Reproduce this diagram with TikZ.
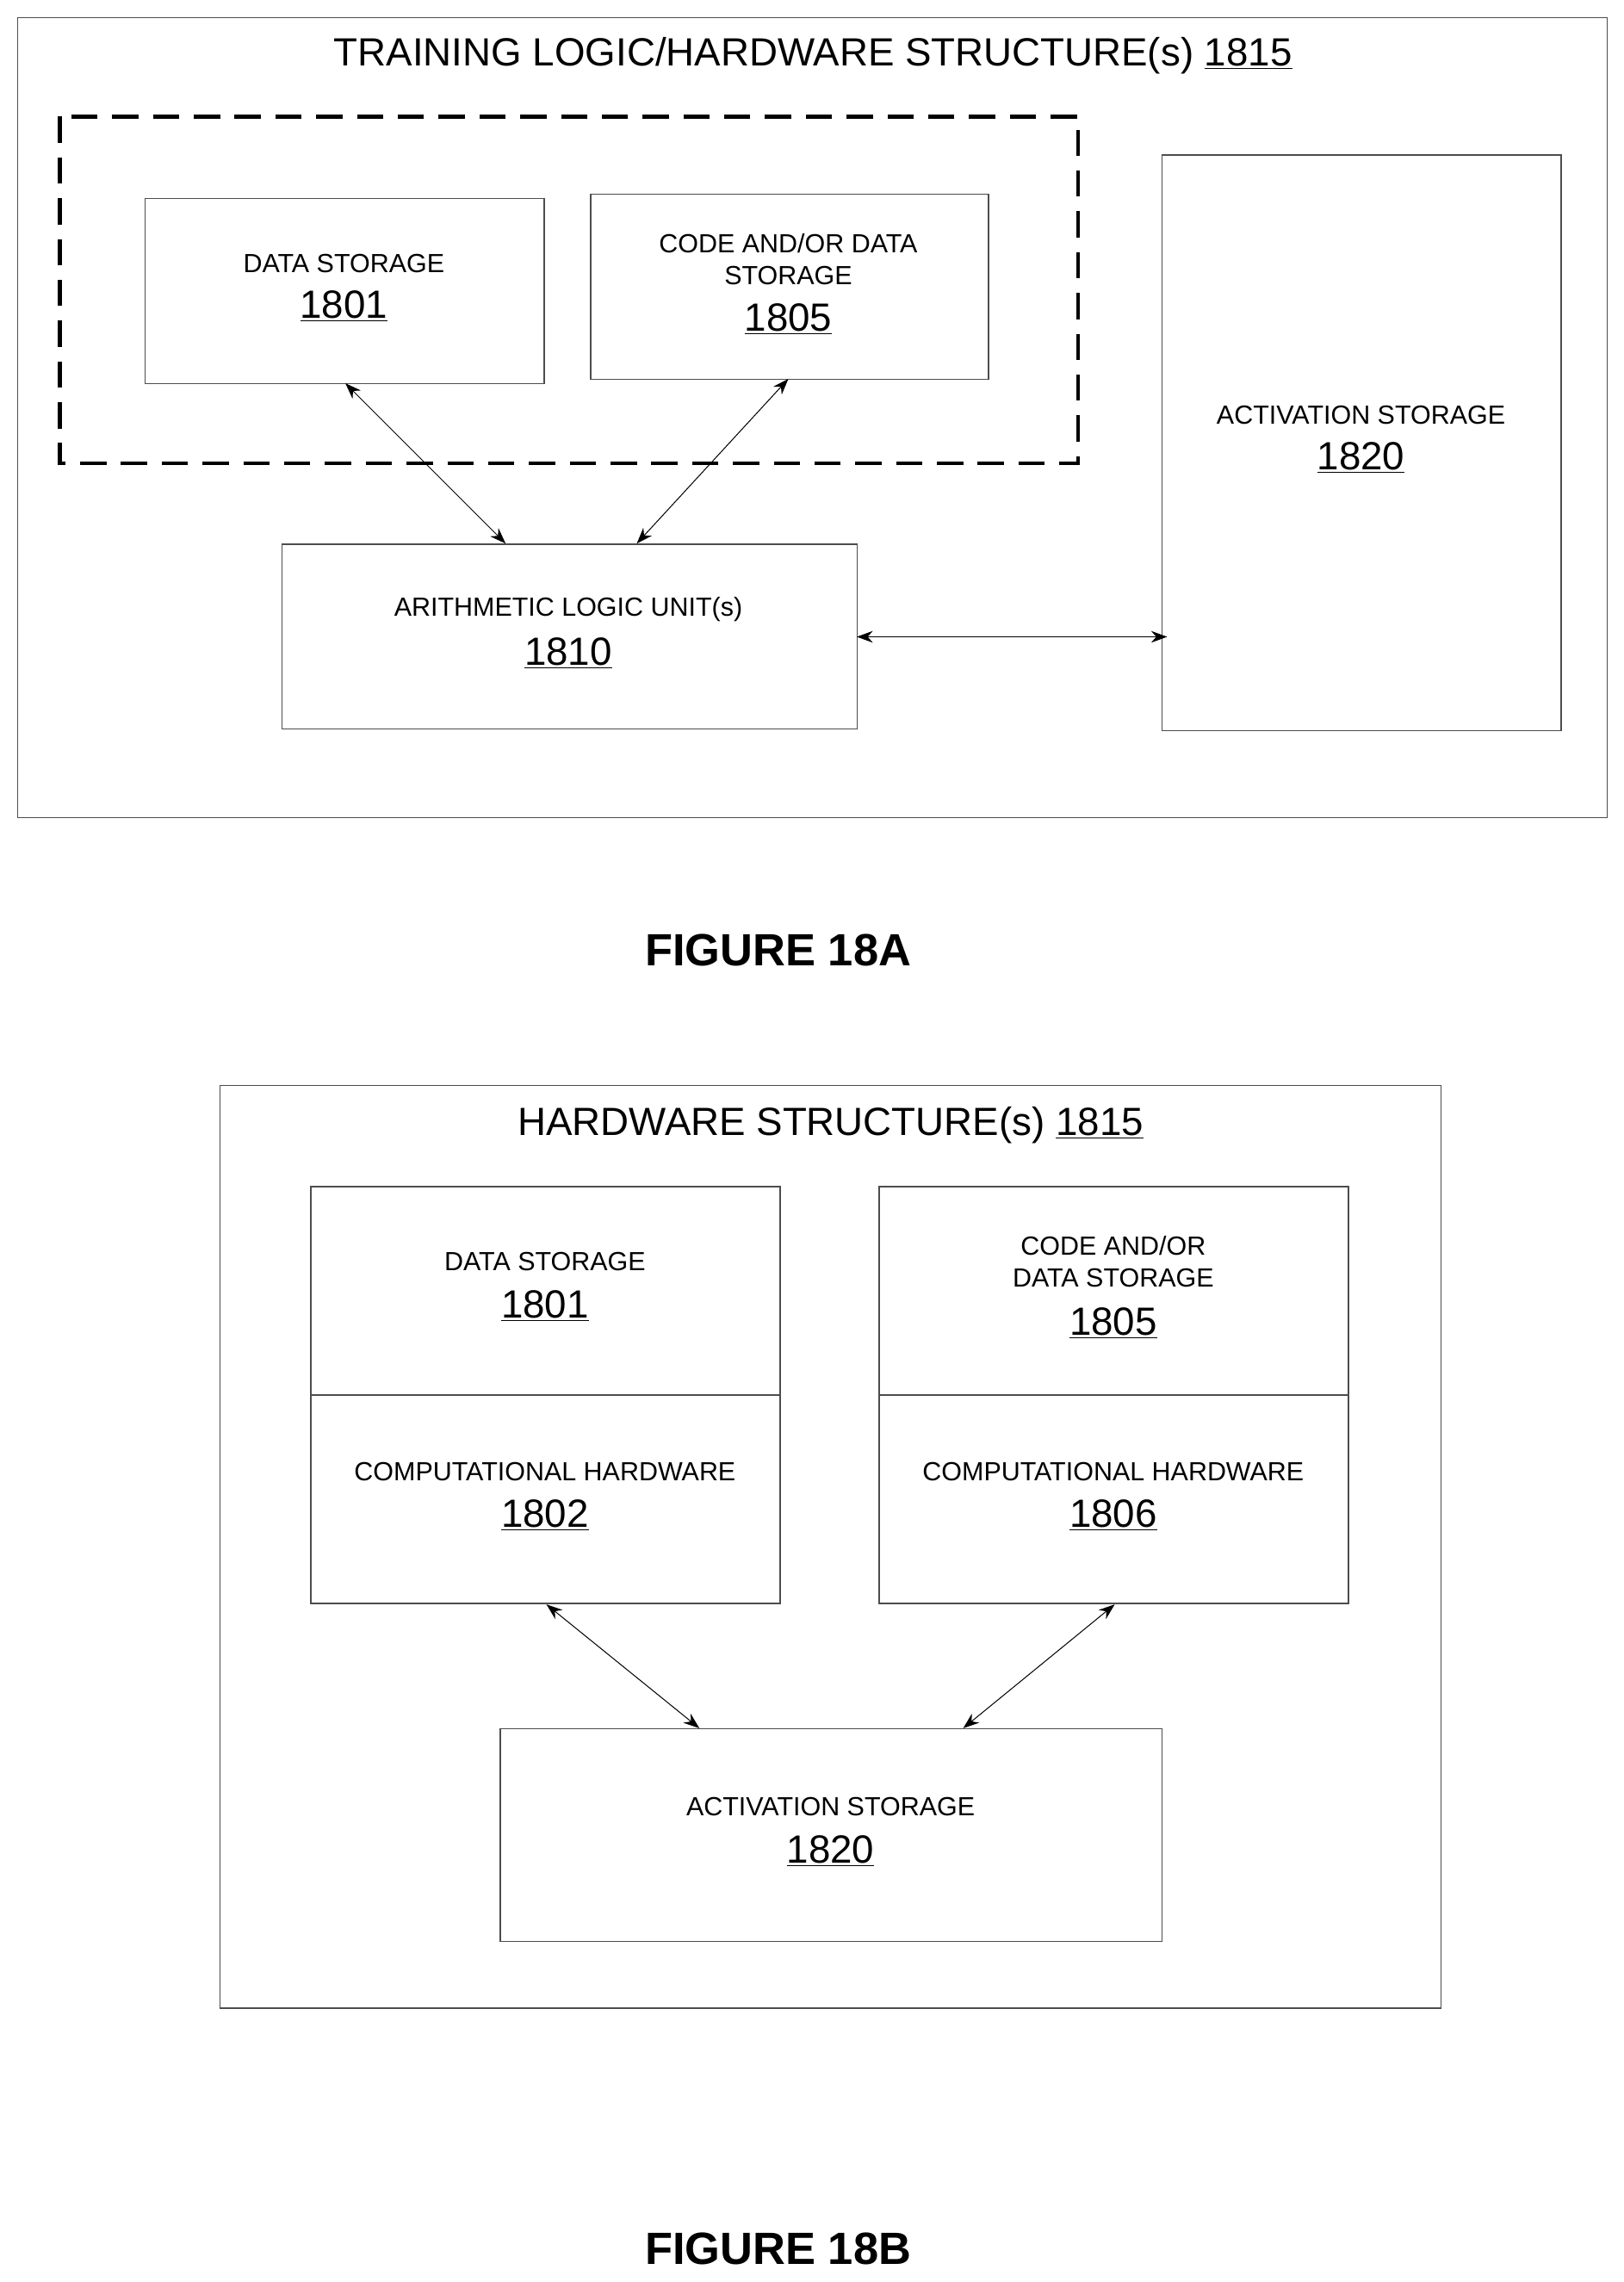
\documentclass[tikz,border=0pt]{standalone}
\usepackage{fontspec}
\setmainfont{Liberation Sans}
\usetikzlibrary{arrows.meta}
\begin{document}
\begin{tikzpicture}[x=1pt,y=-1pt,
  box/.style={draw=black!70,line width=0.8pt},
  lbl/.style={font=\fontsize{18}{21}\selectfont,align=center,inner sep=0},
  num/.style={font=\fontsize{27}{30}\selectfont,inner sep=0},
  ttl/.style={font=\fontsize{27}{30}\selectfont,inner sep=0},
  fig/.style={font=\bfseries\fontsize{31}{34}\selectfont,inner sep=0},
  arr/.style={{Stealth[length=11pt,width=8pt]}-{Stealth[length=11pt,width=8pt]},line width=0.6pt}]
\useasboundingbox (0,0) rectangle (1114,1566);
% Figure 18A
\draw[box] (12,12) rectangle (1103,561);
\node[ttl] (ta) at (558,38) {TRAINING LOGIC/HARDWARE STRUCTURE(s) \underline{1815}};
\draw[line width=2.6pt,dash pattern=on 18pt off 10pt] (41,80) rectangle (740,318);
\node[box,minimum width=274,minimum height=127,anchor=north west] (ds) at (99,136) {};
\node[lbl] at (236,181) {DATA STORAGE};
\node[num] at (236,210) {\underline{1801}};
\node[box,minimum width=273,minimum height=127,anchor=north west] (cd) at (405,133) {};
\node[lbl] at (541,178) {CODE AND/OR DATA\\[1pt]STORAGE};
\node[num] at (541,219) {\underline{1805}};
\node[box,minimum width=395,minimum height=127,anchor=north west] (alu) at (193,373) {};
\node[lbl] at (390,418) {ARITHMETIC LOGIC UNIT(s)};
\node[num] at (390,448) {\underline{1810}};
\node[box,minimum width=274,minimum height=395,anchor=north west] (act) at (797,106) {};
\node[lbl] at (934,285) {ACTIVATION STORAGE};
\node[num] at (934,314) {\underline{1820}};
\coordinate (a1) at (237,263); \coordinate (a2) at (347,373);
\coordinate (b1) at (541,260); \coordinate (b2) at (437,373);
\coordinate (c1) at (588,437); \coordinate (c2) at (801,437);
\draw[arr] (a1) -- (a2);
\draw[arr] (b1) -- (b2);
\draw[arr] (c1) -- (c2);
\node[fig] (fa) at (534,652) {FIGURE 18A};
% Figure 18B
\draw[box] (151,745) rectangle (989,1378);
\node[ttl] (tb) at (570,772) {HARDWARE STRUCTURE(s) \underline{1815}};
\node[box,minimum width=322,minimum height=143,anchor=north west] (ds2) at (213,814) {};
\node[lbl] at (374,866) {DATA STORAGE};
\node[num] at (374,896) {\underline{1801}};
\node[box,minimum width=322,minimum height=143,anchor=north west] (cd2) at (603,814) {};
\node[lbl] at (764,866) {CODE AND/OR\\[1pt]DATA STORAGE};
\node[num] at (764,908) {\underline{1805}};
\node[box,minimum width=322,minimum height=143,anchor=north west] (ch1) at (213,957) {};
\node[lbl] at (374,1010) {COMPUTATIONAL HARDWARE};
\node[num] at (374,1040) {\underline{1802}};
\node[box,minimum width=322,minimum height=143,anchor=north west] (ch2) at (603,957) {};
\node[lbl] at (764,1010) {COMPUTATIONAL HARDWARE};
\node[num] at (764,1040) {\underline{1806}};
\node[box,minimum width=454,minimum height=146,anchor=north west] (act2) at (343,1186) {};
\node[lbl] at (570,1240) {ACTIVATION STORAGE};
\node[num] at (570,1270) {\underline{1820}};
\coordinate (d1) at (375,1101); \coordinate (d2) at (480,1186);
\coordinate (e1) at (765,1101); \coordinate (e2) at (661,1186);
\draw[arr] (d1) -- (d2);
\draw[arr] (e1) -- (e2);
\node[fig] (fb) at (534,1543) {FIGURE 18B};
\end{tikzpicture}
\end{document}
